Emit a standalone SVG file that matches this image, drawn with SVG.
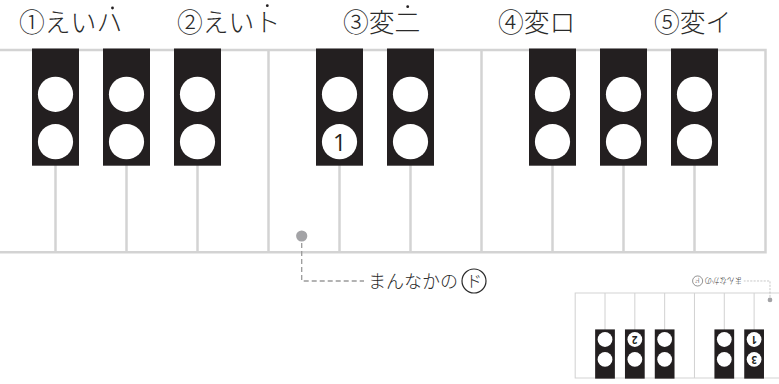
<svg xmlns="http://www.w3.org/2000/svg" width="779" height="384" viewBox="0 0 779 384">
<style>
.ln{stroke:#d3d3d3;stroke-width:2.5;fill:none}
.bk{fill:#231f20}
.hole{fill:#fff}
.num{font-family:'Open Sans','Noto Sans',sans-serif;font-size:23px;fill:#231f20;text-anchor:middle}
.title{font-family:'Noto Sans CJK JP',sans-serif;font-size:25.8px;font-weight:300;fill:#2a2a2a}
.dot{fill:#231f20}
.mc{fill:#a3a3a6}
.lead{stroke:#9a9a9a;stroke-width:1.3;stroke-dasharray:5 3;fill:none}
.lbl{font-family:'Noto Sans CJK JP',sans-serif;font-size:18px;font-weight:300;fill:#2a2a2a}
.ring{fill:none;stroke:#2a2a2a;stroke-width:1.2}
</style>
<defs>
<g id="bkey">
<rect class="bk" x="-23.5" y="48.5" width="47" height="117.2"/>
<circle class="hole" cx="0" cy="94.3" r="17.6"/>
<circle class="hole" cx="0" cy="141.7" r="17.6"/>
</g>
</defs>
<rect width="779" height="384" fill="#fff"/>

<g id="titles">
<g id="t1"><text class="title" x="19" y="31.5">①えいハ</text><circle class="dot" cx="112.5" cy="8" r="1.4"/></g>
<g id="t2"><text class="title" x="177" y="31.5">②えいト</text><circle class="dot" cx="267.3" cy="5.7" r="1.4"/></g>
<g id="t3"><text class="title" x="343" y="31.5">③変二</text><circle class="dot" cx="407.7" cy="6.7" r="1.4"/></g>
<g id="t4"><text class="title" x="498" y="31.5">④変ロ</text></g>
<g id="t5"><text class="title" x="654" y="31.5">⑤変イ</text></g>
</g>

<g id="keyboard">
<path class="ln" d="M0 50H765.5V252.3H0M55.5 50V252.3M126.5 50V252.3M197.5 50V252.3M268.5 50V252.3M339.5 50V252.3M410.5 50V252.3M481.5 50V252.3M552.5 50V252.3M623.5 50V252.3M694.5 50V252.3"/>
<g id="k1"><use href="#bkey" x="55.5"/></g>
<g id="k2"><use href="#bkey" x="126.5"/></g>
<g id="k3"><use href="#bkey" x="197.5"/></g>
<g id="k4"><use href="#bkey" x="339.5"/><text class="num" x="339.5" y="150.5">1</text></g>
<g id="k5"><use href="#bkey" x="410.5"/></g>
<g id="k6"><use href="#bkey" x="552.5"/></g>
<g id="k7"><use href="#bkey" x="623.5"/></g>
<g id="k8"><use href="#bkey" x="694.5"/></g>
<circle id="middle-c" class="mc" cx="301.7" cy="236" r="5.6"/>
</g>

<g id="connectors">
<path class="lead" d="M301.7 243V281H364"/>
</g>

<g id="label">
<text class="lbl" x="368" y="288">まんなかの</text>
<circle class="ring" cx="474" cy="281" r="12"/>
<text class="lbl" x="474" y="287" text-anchor="middle" style="font-size:16px">ド</text>
</g>

<g id="mini" transform="translate(896.7 399) rotate(180) scale(0.42)">
<path class="ln" d="M250 50H765.5V252.3H250M268.5 50V252.3M339.5 50V252.3M410.5 50V252.3M481.5 50V252.3M552.5 50V252.3M623.5 50V252.3M694.5 50V252.3"/>
<use href="#bkey" x="339.5"/>
<use href="#bkey" x="410.5"/>
<use href="#bkey" x="552.5"/>
<use href="#bkey" x="623.5"/>
<use href="#bkey" x="694.5"/>
<text class="num" x="339.5" y="150" style="font-weight:bold">1</text>
<text class="num" x="339.5" y="102.6" style="font-weight:bold">3</text>
<text class="num" x="623.5" y="150" style="font-weight:bold">2</text>
<circle class="mc" cx="301.7" cy="236" r="5.6"/>
<path class="lead" d="M301.7 243V281H364"/>
<text class="lbl" x="368" y="288">まんなかの</text>
<circle class="ring" cx="474" cy="281" r="12"/>
<text class="lbl" x="474" y="287" text-anchor="middle" style="font-size:16px">ド</text>
</g>
</svg>
